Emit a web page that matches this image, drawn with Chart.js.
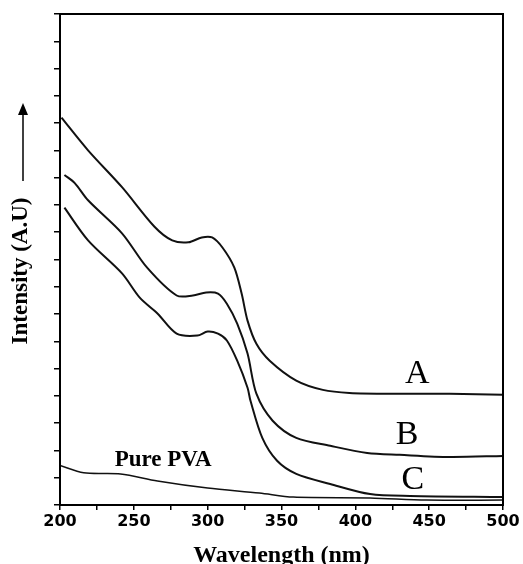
<!DOCTYPE html>
<html>
<head>
<meta charset="utf-8">
<script src="https://cdn.jsdelivr.net/npm/chart.js@4/dist/chart.umd.min.js"></script>
<style>
  html, body { margin: 0; padding: 0; background: #fff; }
  #wrap { width: 523px; height: 564px; }
</style>
</head>
<body>
<div id="wrap"><canvas id="spectra"></canvas></div>
<script>
// Curve values (wavelength in nm, intensity in arbitrary units, 0-18 tick steps)
const wavelengthA = [201, 219, 242, 264, 276, 287, 296, 303, 310, 318, 323, 327, 333, 342, 360, 378, 396, 430, 464, 500];
const intensityA  = [14.2, 13.0, 11.65, 10.2, 9.7, 9.63, 9.81, 9.81, 9.44, 8.71, 7.75, 6.76, 5.91, 5.29, 4.56, 4.22, 4.11, 4.08, 4.08, 4.04];

const wavelengthB = [203, 210, 219, 242, 259, 279, 290, 299, 307, 313, 320, 327, 333, 344, 360, 383, 408, 430, 464, 500];
const intensityB  = [12.1, 11.8, 11.17, 9.96, 8.7, 7.68, 7.68, 7.79, 7.75, 7.38, 6.65, 5.55, 4.08, 3.09, 2.46, 2.17, 1.91, 1.84, 1.76, 1.8];

const wavelengthC = [203, 219, 242, 254, 266, 279, 293, 300, 307, 313, 320, 327, 329, 337, 347, 360, 383, 410, 437, 500];
const intensityC  = [10.9, 9.7, 8.49, 7.6, 7.02, 6.28, 6.21, 6.36, 6.28, 6.03, 5.29, 4.3, 3.82, 2.46, 1.62, 1.14, 0.77, 0.4, 0.33, 0.29];

const wavelengthPVA = [200, 216, 241, 266, 300, 335, 358, 410, 448, 500];
const intensityPVA  = [1.45, 1.18, 1.14, 0.88, 0.62, 0.44, 0.29, 0.26, 0.18, 0.18];

const xTicksMajor = [200, 250, 300, 350, 400, 450, 500];

// text written inside the plot
const curveLabels = [
  { text: 'A', x: 442, y: 4.48, font: '34px "Liberation Serif"' },
  { text: 'B', x: 435, y: 2.24, font: '34px "Liberation Serif"' },
  { text: 'C', x: 439, y: 0.59, font: '34px "Liberation Serif"' },
  { text: 'Pure PVA', x: 237, y: 1.43, font: 'bold 23px "Liberation Serif"', align: 'left' }
];

function toPoints(xs, ys) {
  return xs.map((x, i) => ({ x: x, y: ys[i] }));
}

function curve(label, xs, ys, width) {
  return {
    label: label,
    data: toPoints(xs, ys),
    borderColor: '#111',
    borderWidth: width,
    pointRadius: 0,
    fill: false,
    tension: 0.3
  };
}

const decorPlugin = {
  id: 'decor',
  afterDatasetsDraw(chart) {
    const { ctx, chartArea, scales } = chart;
    ctx.save();
    // frame around the plot
    ctx.strokeStyle = '#000';
    ctx.lineWidth = 2;
    ctx.strokeRect(chartArea.left, chartArea.top, chartArea.right - chartArea.left, chartArea.bottom - chartArea.top);

    // curve names
    ctx.fillStyle = '#000';
    ctx.textBaseline = 'alphabetic';
    curveLabels.forEach(l => {
      ctx.font = l.font;
      ctx.textAlign = l.align || 'center';
      ctx.fillText(l.text, scales.x.getPixelForValue(l.x), scales.y.getPixelForValue(l.y));
    });

    // y title with arrow
    ctx.translate(21, 271);
    ctx.rotate(-Math.PI / 2);
    ctx.font = 'bold 23px "Liberation Serif"';
    ctx.textAlign = 'center';
    ctx.textBaseline = 'middle';
    ctx.fillText('Intensity (A.U)', 0, 0);
    ctx.lineWidth = 1.5;
    ctx.beginPath();
    ctx.moveTo(90, 2);
    ctx.lineTo(158, 2);
    ctx.stroke();
    ctx.beginPath();
    ctx.moveTo(168, 2);
    ctx.lineTo(156, -3);
    ctx.lineTo(156, 7);
    ctx.closePath();
    ctx.fill();
    ctx.restore();
  }
};

const ctx = document.getElementById('spectra').getContext('2d');
const spectraChart = new Chart(ctx, {
  type: 'line',
  data: {
    datasets: [
      curve('A', wavelengthA, intensityA, 2),
      curve('B', wavelengthB, intensityB, 2),
      curve('C', wavelengthC, intensityC, 2),
      curve('Pure PVA', wavelengthPVA, intensityPVA, 1.5)
    ]
  },
  options: {
    responsive: true,
    maintainAspectRatio: false,
    animation: false,
    layout: { padding: { left: 54, right: 20, top: 14, bottom: 0 } },
    plugins: {
      legend: { display: false },
      tooltip: { enabled: false }
    },
    scales: {
      x: {
        type: 'linear',
        min: 200,
        max: 500,
        ticks: {
          stepSize: 25,
          autoSkip: false,
          maxRotation: 0,
          color: '#000',
          padding: 2,
          font: { family: '"DejaVu Sans"', weight: 'bold', size: 16 },
          callback: v => xTicksMajor.includes(v) ? v : ''
        },
        grid: { drawOnChartArea: false, tickLength: 5, color: '#000', lineWidth: 1.5 },
        border: { color: '#000', width: 2 },
        title: {
          display: true,
          text: 'Wavelength (nm)',
          color: '#000',
          font: { family: '"Liberation Serif"', weight: 'bold', size: 24 },
          padding: { top: 8, bottom: -6 }
        }
      },
      y: {
        min: 0,
        max: 18,
        ticks: { display: false, stepSize: 1 },
        grid: { drawOnChartArea: false, tickLength: 6, color: '#000', lineWidth: 1.5 },
        border: { color: '#000', width: 2 }
      }
    }
  },
  plugins: [decorPlugin]
});
</script>
</body>
</html>
